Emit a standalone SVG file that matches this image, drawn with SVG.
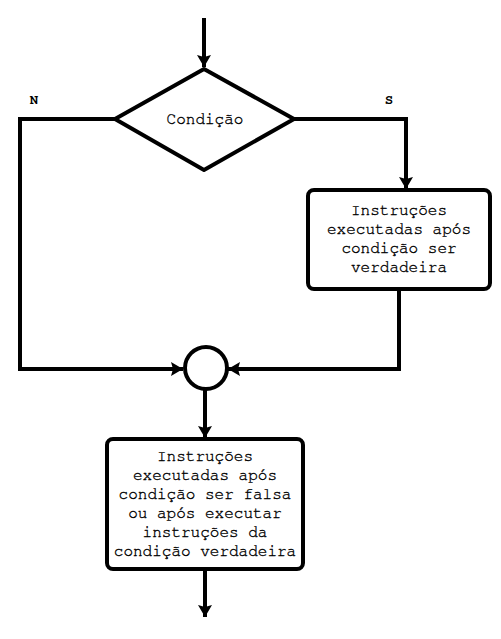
<svg xmlns="http://www.w3.org/2000/svg" width="501" height="639" viewBox="0 0 501 639">
<style>
.shape{fill:#fff;stroke:#000;stroke-width:4;stroke-linejoin:round}
.conn{fill:none;stroke:#000;stroke-width:4;stroke-linejoin:miter}
.t{font-family:FreeMono,'Liberation Mono',monospace;font-size:16px;fill:#000;stroke:#000;stroke-width:0.35;text-anchor:middle}
.lbl{font-family:FreeMono,'Liberation Mono',monospace;font-size:14px;font-weight:bold;fill:#000;text-anchor:middle}
</style>
<defs>
<marker id="ah" viewBox="0 0 12 14" refX="12" refY="7" markerWidth="12" markerHeight="14" markerUnits="userSpaceOnUse" orient="auto">
<path d="M0,0 L12,7 L0,14 L2,7 Z" fill="#000"/>
</marker>
</defs>
<rect width="501" height="639" fill="#fff"/>
<g id="connectors">
<path class="conn" d="M204,18 L204,67" marker-end="url(#ah)"/>
<path class="conn" d="M115,119 L20,119 L20,369 L183,369" marker-end="url(#ah)"/>
<path class="conn" d="M294,119 L406,119 L406,189" marker-end="url(#ah)"/>
<path class="conn" d="M399,289 L399,369 L228,369" marker-end="url(#ah)"/>
<path class="conn" d="M205,390 L205,438" marker-end="url(#ah)"/>
<path class="conn" d="M205,569 L205,617" marker-end="url(#ah)"/>
<text class="lbl" x="34" y="104">N</text>
<text class="lbl" x="389" y="104">S</text>
</g>
<g id="decision">
<polygon class="shape" points="204,69 294,119 204,170 115,119"/>
<text class="t" x="205" y="124">Condição</text>
</g>
<g id="true-block">
<rect class="shape" x="308" y="190" width="182" height="99" rx="6"/>
<text class="t" x="399" y="215">Instruções</text>
<text class="t" x="399" y="234">executadas após</text>
<text class="t" x="399" y="253">condição ser</text>
<text class="t" x="399" y="272">verdadeira</text>
</g>
<g id="merge">
<circle class="shape" cx="206" cy="368" r="21"/>
</g>
<g id="after-block">
<rect class="shape" x="107" y="439" width="196" height="130" rx="6"/>
<text class="t" x="205" y="461">Instruções</text>
<text class="t" x="205" y="480">executadas após</text>
<text class="t" x="205" y="499">condição ser falsa</text>
<text class="t" x="205" y="518">ou após executar</text>
<text class="t" x="205" y="537">instruções da</text>
<text class="t" x="205" y="556">condição verdadeira</text>
</g>
</svg>
